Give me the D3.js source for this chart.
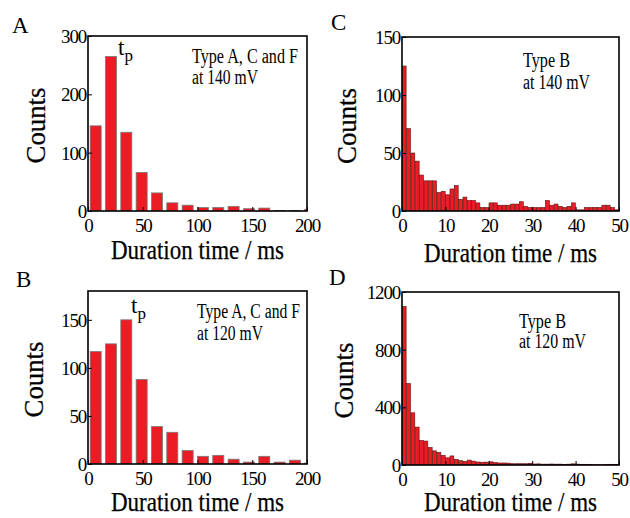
<!DOCTYPE html>
<html>
<head>
<meta charset="utf-8">
<script src="https://cdn.jsdelivr.net/npm/d3@7"></script>
<style>
  html, body { margin: 0; padding: 0; background: #fff; }
  svg { display: block; font-family: "Liberation Serif", "Times New Roman", serif; }
  text { font-family: "Liberation Serif", "Times New Roman", serif; fill: #000; }
</style>
</head>
<body>
<svg id="chart" width="630" height="518"></svg>
<script>
// ---------------- data ----------------
// Panels A / B: 14 ms bins (bin centres, ms)
const binCentersAB = [7, 21, 35, 49, 63, 77, 91, 105, 119, 133, 147, 161, 175, 189, 203];
const countsA140 = [146, 265, 135, 66, 31, 14, 10, 6, 6, 8, 4, 5, 1, 1, 3];
const countsB120 = [117, 125, 150, 88, 39, 33, 14, 8, 9, 5, 2, 8, 2, 4, 1];

// Panels C / D: 1 ms bins (bin centres, ms)
const binCentersCD = [0.5, 1.5, 2.5, 3.5, 4.5, 5.5, 6.5, 7.5, 8.5, 9.5,
  10.5, 11.5, 12.5, 13.5, 14.5, 15.5, 16.5, 17.5, 18.5, 19.5,
  20.5, 21.5, 22.5, 23.5, 24.5, 25.5, 26.5, 27.5, 28.5, 29.5,
  30.5, 31.5, 32.5, 33.5, 34.5, 35.5, 36.5, 37.5, 38.5, 39.5,
  40.5, 41.5, 42.5, 43.5, 44.5, 45.5, 46.5, 47.5, 48.5, 49.5];
const countsC140 = [125, 71, 50, 43, 31, 26, 26, 26, 16, 17,
  14, 19, 22, 10, 12, 9, 9, 7, 3, 3,
  7, 7, 5, 5, 5, 6, 6, 8, 4, 3,
  3, 3, 3, 9, 5, 6, 4, 3, 4, 7,
  1, 1, 3, 3, 3, 3, 5, 5, 3, 1];
const countsD120 = [1100, 565, 362, 263, 170, 166, 122, 98, 88, 67,
  50, 63, 39, 30, 25, 34, 27, 21, 19, 20,
  22, 17, 14, 14, 13, 9, 9, 9, 9, 12,
  7, 8, 6, 6, 7, 6, 6, 5, 6, 8,
  6, 5, 5, 4, 2, 2, 2, 5, 5, 5];

// axis ticks
const xTicksAB = [0, 50, 100, 150, 200];
const xTicksCD = [0, 10, 20, 30, 40, 50];
const yTicksA = [0, 100, 200, 300];
const yTicksB = [0, 50, 100, 150];
const yTicksC = [0, 50, 100, 150];
const yTicksD = [0, 400, 800, 1200];

const xTitle = "Duration time / ms";
const yTitle = "Counts";

// ---------------- drawing ----------------
const svg = d3.select("#chart");
const RED = "#ec1c24";
const SERIF = '"Liberation Serif", "Times New Roman", serif';

function panel(cfg) {
  const g = svg.append("g");
  const x = d3.scaleLinear().domain([0, cfg.xMax]).range([cfg.x0, cfg.x1]);
  const y = d3.scaleLinear().domain([0, cfg.yMax]).range([cfg.y1, cfg.y0]);

  const clipId = "clip" + cfg.letter;
  svg.append("clipPath").attr("id", clipId)
    .append("rect").attr("x", cfg.x0).attr("y", cfg.y0)
    .attr("width", cfg.x1 - cfg.x0).attr("height", cfg.y1 - cfg.y0);

  const bw = cfg.binWidth * cfg.barFrac;
  g.append("g").attr("clip-path", `url(#${clipId})`)
    .selectAll("rect").data(cfg.centers.map((c, i) => ({ c, v: cfg.values[i] })))
    .join("rect")
    .attr("x", d => x(d.c - bw / 2))
    .attr("width", d => x(bw) - x(0))
    .attr("y", d => y(d.v))
    .attr("height", d => y(0) - y(d.v))
    .attr("fill", RED)
    .attr("stroke", cfg.barStroke)
    .attr("stroke-width", cfg.barStrokeW);

  // axes with inward ticks
  const xa = g.append("g").attr("transform", `translate(0,${cfg.y1})`)
    .call(d3.axisBottom(x).tickValues(cfg.xTicks).tickSize(-4).tickPadding(4).tickFormat(d3.format("d")));
  const ya = g.append("g").attr("transform", `translate(${cfg.x0},0)`)
    .call(d3.axisLeft(y).tickValues(cfg.yTicks).tickSize(-4).tickPadding(2).tickFormat(d3.format("d")));
  [xa, ya].forEach(a => {
    a.attr("font-family", SERIF).attr("font-size", 18);
    a.select(".domain").remove();
    a.selectAll("line").attr("stroke", "#000").attr("stroke-width", 1);
    a.selectAll("text").style("font-family", SERIF)
      .style("font-size", "19px").attr("letter-spacing", "-1.2");
  });
  xa.selectAll("text").attr("dy", "0.9em");
  ya.selectAll("text").attr("dy", "0.34em");

  // frame
  g.append("rect").attr("x", cfg.x0).attr("y", cfg.y0)
    .attr("width", cfg.x1 - cfg.x0).attr("height", cfg.y1 - cfg.y0)
    .attr("fill", "none").attr("stroke", "#000").attr("stroke-width", 1.6);

  // titles
  g.append("text").attr("x", (cfg.x0 + cfg.x1) / 2).attr("y", cfg.xTitleY)
    .attr("text-anchor", "middle").style("font-size", "27px")
    .attr("textLength", 173).attr("lengthAdjust", "spacingAndGlyphs")
    .attr("stroke", "#000").attr("stroke-width", 0.25)
    .text(xTitle);
  g.append("text")
    .attr("transform", `translate(${cfg.yTitleX},${(cfg.y0 + cfg.y1) / 2 + 2}) rotate(-90)`)
    .attr("text-anchor", "middle").style("font-size", "28px")
    .attr("textLength", 76).attr("lengthAdjust", "spacingAndGlyphs")
    .attr("stroke", "#000").attr("stroke-width", 0.25)
    .text(yTitle);

  // panel letter
  g.append("text").attr("x", cfg.letterX).attr("y", cfg.letterY)
    .style("font-size", "23px").text(cfg.letter);

  // annotation
  cfg.notes.forEach(n => {
    g.append("text").attr("x", n.x).attr("y", n.y).style("font-size", "20px")
      .attr("textLength", n.w).attr("lengthAdjust", "spacingAndGlyphs").text(n.t);
  });

  if (cfg.tp) {
    const t = g.append("text").attr("x", cfg.tp.x).attr("y", cfg.tp.y).style("font-size", "23px");
    t.append("tspan").text("t");
    t.append("tspan").attr("dy", 6).style("font-size", "17px").text("p");
  }
}

panel({ letter: "A", letterX: 12, letterY: 33, x0: 88, x1: 307, y0: 36, y1: 211,
  xMax: 200, yMax: 300, centers: binCentersAB, values: countsA140, binWidth: 14, barFrac: 0.72,
  barStroke: "#7a7a7a", barStrokeW: 0.8, xTicks: xTicksAB, yTicks: yTicksA,
  xTitleY: 259, yTitleX: 45,
  notes: [{ t: "Type A, C and F", x: 192, y: 63, w: 106 }, { t: "at 140 mV", x: 192, y: 84, w: 66 }],
  tp: { x: 118, y: 55 } });

panel({ letter: "C", letterX: 331, letterY: 30, x0: 402, x1: 619, y0: 37, y1: 211,
  xMax: 50, yMax: 150, centers: binCentersCD, values: countsC140, binWidth: 1, barFrac: 0.9,
  barStroke: "#5a1010", barStrokeW: 0.6, xTicks: xTicksCD, yTicks: yTicksC,
  xTitleY: 262, yTitleX: 356,
  notes: [{ t: "Type B", x: 523, y: 67, w: 47 }, { t: "at 140 mV", x: 523, y: 89, w: 67 }] });

panel({ letter: "B", letterX: 16, letterY: 287, x0: 88, x1: 307, y0: 291, y1: 464,
  xMax: 200, yMax: 180, centers: binCentersAB, values: countsB120, binWidth: 14, barFrac: 0.72,
  barStroke: "#7a7a7a", barStrokeW: 0.8, xTicks: xTicksAB, yTicks: yTicksB,
  xTitleY: 511, yTitleX: 43,
  notes: [{ t: "Type A, C and F", x: 197, y: 318, w: 103 }, { t: "at 120 mV", x: 197, y: 340, w: 66 }],
  tp: { x: 131, y: 313 } });

panel({ letter: "D", letterX: 329, letterY: 285, x0: 402, x1: 619, y0: 292, y1: 465,
  xMax: 50, yMax: 1200, centers: binCentersCD, values: countsD120, binWidth: 1, barFrac: 0.9,
  barStroke: "#5a1010", barStrokeW: 0.6, xTicks: xTicksCD, yTicks: yTicksD,
  xTitleY: 511, yTitleX: 353,
  notes: [{ t: "Type B", x: 519, y: 328, w: 47 }, { t: "at 120 mV", x: 519, y: 348, w: 67 }] });
</script>
</body>
</html>
